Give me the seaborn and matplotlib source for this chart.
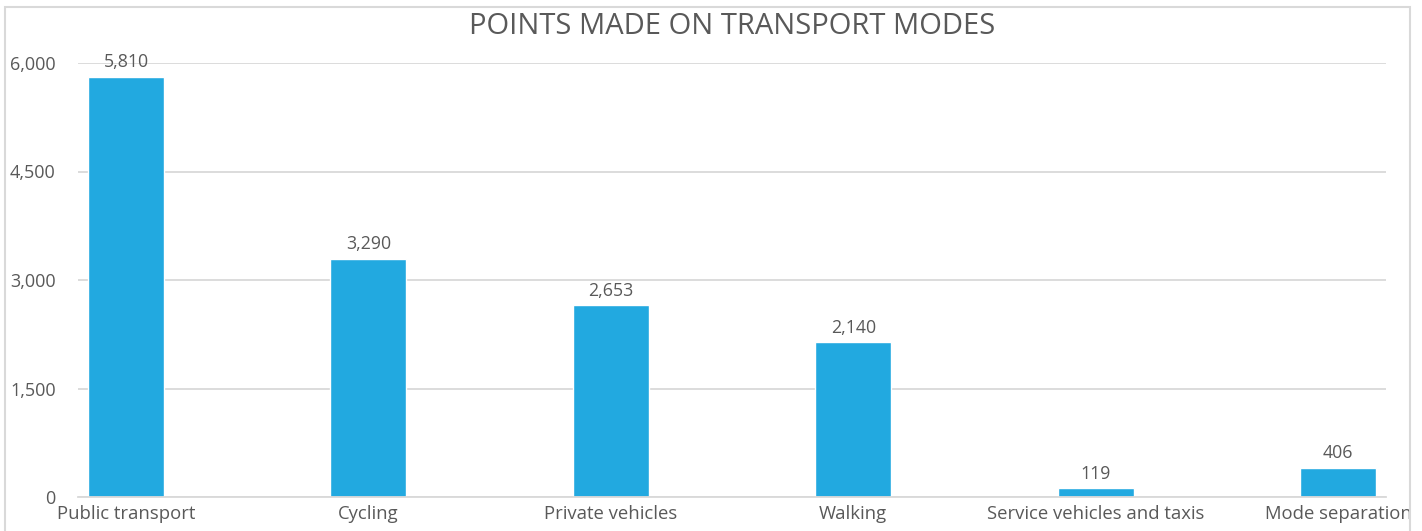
import matplotlib
matplotlib.use("Agg")
import matplotlib.pyplot as plt
import matplotlib.patches as mpatches
import seaborn as sns
import pandas as pd

categories = ["Public transport", "Cycling", "Private vehicles", "Walking",
              "Service vehicles and taxis", "Mode separation"]
points = [5810, 3290, 2653, 2140, 119, 406]
yticks = [0, 1500, 3000, 4500, 6000]

sns.set_theme(style="white")
plt.rcParams['font.family'] = ['Open Sans', 'DejaVu Sans']

text_color = "#595959"
bar_color = "#22A9E0"
grid_color = "#D9D9D9"

df = pd.DataFrame({"mode": categories, "points": points})

fig = plt.figure(figsize=(14.22, 5.31), dpi=100)
ax = fig.add_axes([78/1422, 1 - 497/531, (1386-78)/1422, (497-63)/531])

sns.barplot(data=df, x="mode", y="points", color=bar_color, width=0.314,
            saturation=1, ax=ax)

ax.set_xlim(-0.198, 5.198)
ax.set_ylim(0, 6000)
ax.set_yticks(yticks)
ax.set_yticklabels([f"{v:,}" for v in yticks])
ax.yaxis.grid(True, color=grid_color, linewidth=1.3)
ax.set_axisbelow(True)
for s in ["top", "right", "left"]:
    ax.spines[s].set_visible(False)
ax.spines["bottom"].set_color(grid_color)
ax.spines["bottom"].set_linewidth(1.3)
ax.tick_params(axis="x", length=0, colors=text_color, labelsize=13.3, pad=6)
ax.tick_params(axis="y", length=0, colors=text_color, labelsize=13.0, pad=16)
for lbl in ax.get_xticklabels() + ax.get_yticklabels():
    lbl.set_color(text_color)
ax.set_xlabel("")
ax.set_ylabel("")

for container in ax.containers:
    ax.bar_label(container, labels=[f"{v:,}" for v in points], padding=4,
                 color=text_color, fontsize=12.8)

fig.text(732/1422, 1 - 27/531, "POINTS MADE ON TRANSPORT MODES", ha="center",
         va="center", fontsize=21, color=text_color)

border = mpatches.Rectangle((5/1422, -0.05), (1410-5)/1422, 1 - 7/531 + 0.05,
                            transform=fig.transFigure, fill=False,
                            edgecolor="#D9D9D9", linewidth=1.5, clip_on=False)
fig.patches.append(border)

fig.savefig("out.png", dpi=100, facecolor="white")
